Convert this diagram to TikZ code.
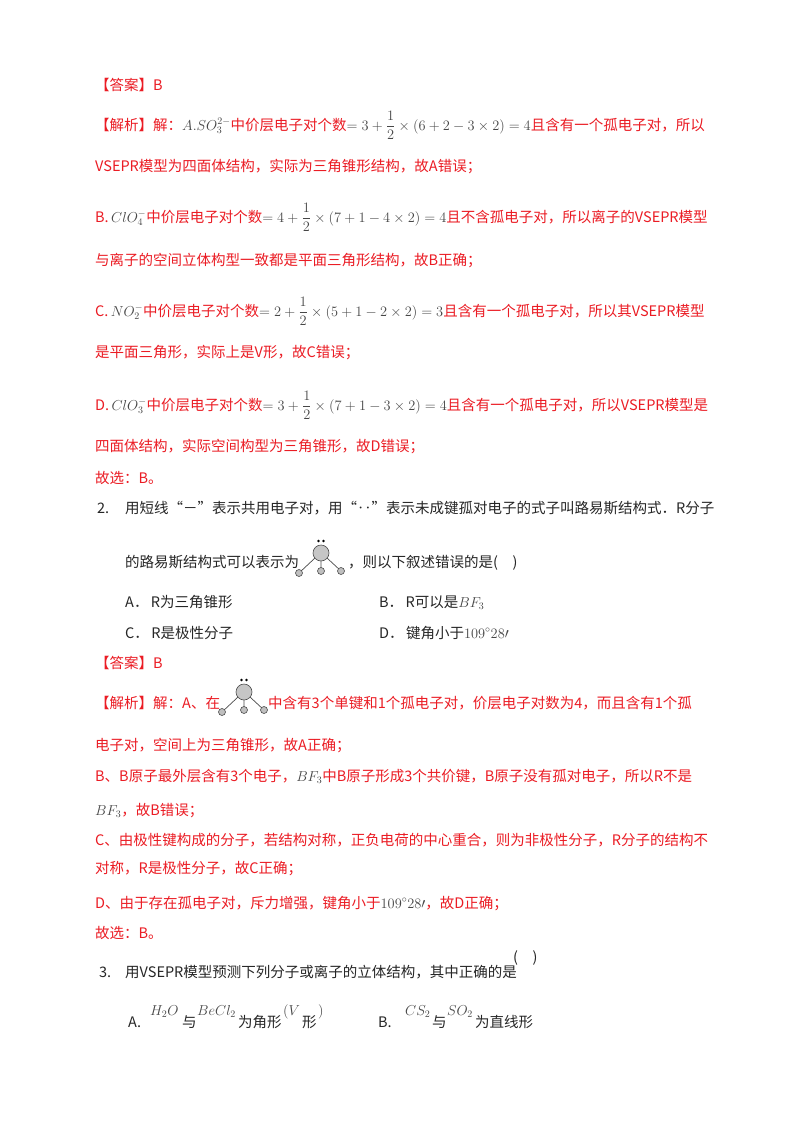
\documentclass[tikz,border=0pt]{standalone}
\usepackage{amsmath}
\usepackage{fontspec}
\newfontfamily\cjk{Noto Sans CJK SC}
\definecolor{ared}{RGB}{235,28,36}
\definecolor{mgray}{RGB}{70,70,70}
\begin{document}
\begin{tikzpicture}[x=1pt,y=-1pt,
  t/.style={anchor=base west,inner sep=0pt,font=\fontsize{14.5}{17}\selectfont\cjk,text=black!85},
  r/.style={t,text=ared}]
\newcommand\mm[1]{\textcolor{mgray}{$#1$}}
\newcommand\mol[3]{%
  \fill[gray!45,draw=black!70,line width=0.6pt] (#1,#2) circle (8);
  \fill[black] (#1-2.5,#2-12) circle (1.3) (#1+2.5,#2-12) circle (1.3);
  \draw[black!70,line width=0.7pt] (#1-22,#2+20)--(#1-6,#2+5) (#1,#2+8)--(#1,#2+18) (#1+6,#2+5)--(#1+20,#2+18);
  \foreach \p/\q in {-22/20,0/18,20/18}{\fill[gray!50,draw=black!70,line width=0.6pt] (#1+\p,#2+\q) circle (3.5);}
  \coordinate (#3) at (#1,#2);}
\useasboundingbox (0,0) rectangle (800,1132);
\fill[white] (0,0) rectangle (800,1132);
\node[r] (l1) at (95,90) {【答案】B};
\node[r] (l2) at (95,130) {【解析】解：\mm{A.SO_3^{2-}}中价层电子对个数\mm{=3+\dfrac12\times(6+2-3\times2)=4}且含有一个孤电子对，所以};
\node[r] (l3) at (95,171) {VSEPR模型为四面体结构，实际为三角锥形结构，故A错误；};
\node[r] (l4) at (95,222) {B.\,\mm{ClO_4^-}中价层电子对个数\mm{=4+\dfrac12\times(7+1-4\times2)=4}且不含孤电子对，所以离子的VSEPR模型};
\node[r] (l5) at (95,265) {与离子的空间立体构型一致都是平面三角形结构，故B正确；};
\node[r] (l6) at (95,316) {C.\,\mm{NO_2^-}中价层电子对个数\mm{=2+\dfrac12\times(5+1-2\times2)=3}且含有一个孤电子对，所以其VSEPR模型};
\node[r] (l7) at (95,357) {是平面三角形，实际上是V形，故C错误；};
\node[r] (l8) at (95,410) {D.\,\mm{ClO_3^-}中价层电子对个数\mm{=3+\dfrac12\times(7+1-3\times2)=4}且含有一个孤电子对，所以VSEPR模型是};
\node[r] (l9) at (95,451) {四面体结构，实际空间构型为三角锥形，故D错误；};
\node[r] (l10) at (95,483) {故选：B。};
\node[t] (q2) at (97,513) {2.};
\node[t] (q2a) at (125,513) {用短线“－”表示共用电子对，用“‥”表示未成键孤对电子的式子叫路易斯结构式．R分子};
\node[t] (q2b) at (125,567) {的路易斯结构式可以表示为};
\mol{321}{553}{m1}
\node[t] (q2c) at (348,567) {，则以下叙述错误的是(\quad)};
\node[t] (oa) at (125,607) {A．\,R为三角锥形};
\node[t] (ob) at (379,607) {B．\,R可以是\mm{BF_3}};
\node[t] (oc) at (125,638) {C．\,R是极性分子};
\node[t] (od) at (379,638) {D．\,键角小于\mm{109^\circ28\prime}};
\node[r] (a2) at (95,668) {【答案】B};
\node[r] (j1) at (95,708) {【解析】解：A、在};
\mol{244}{692}{m2}
\node[r] (j1b) at (268,708) {中含有3个单键和1个孤电子对，价层电子对数为4，而且含有1个孤};
\node[r] (j2) at (95,750) {电子对，空间上为三角锥形，故A正确；};
\node[r] (j3) at (95,781) {B、B原子最外层含有3个电子，\mm{BF_3}中B原子形成3个共价键，B原子没有孤对电子，所以R不是};
\node[r] (j4) at (95,815) {\mm{BF_3}，故B错误；};
\node[r] (j5) at (95,845) {C、由极性键构成的分子，若结构对称，正负电荷的中心重合，则为非极性分子，R分子的结构不};
\node[r] (j6) at (95,873) {对称，R是极性分子，故C正确；};
\node[r] (j7) at (95,908) {D、由于存在孤电子对，斥力增强，键角小于\mm{109^\circ28\prime}，故D正确；};
\node[r] (j8) at (95,938) {故选：B。};
\node[t] (q3) at (99,977) {3.};
\node[t] (q3a) at (125,977) {用VSEPR模型预测下列分子或离子的立体结构，其中正确的是};
\node[t] (q3p) at (513,962) {(\quad)};
\node[t] (q3A) at (128,1027) {A.};
\node[t] (q3A1) at (150,1015) {\mm{H_2O}};
\node[t] (q3A2) at (182,1027) {与};
\node[t] (q3A3) at (197,1015) {\mm{BeCl_2}};
\node[t] (q3A4) at (238,1027) {为角形};
\node[t] (q3A5) at (283,1015) {\mm{(V}};
\node[t] (q3A6) at (302,1027) {形};
\node[t] (q3A7) at (318,1015) {\mm{)}};
\node[t] (q3B) at (378,1027) {B.};
\node[t] (q3B1) at (405,1015) {\mm{CS_2}};
\node[t] (q3B2) at (432,1027) {与};
\node[t] (q3B3) at (447,1015) {\mm{SO_2}};
\node[t] (q3B4) at (475,1027) {为直线形};
\end{tikzpicture}
\end{document}
